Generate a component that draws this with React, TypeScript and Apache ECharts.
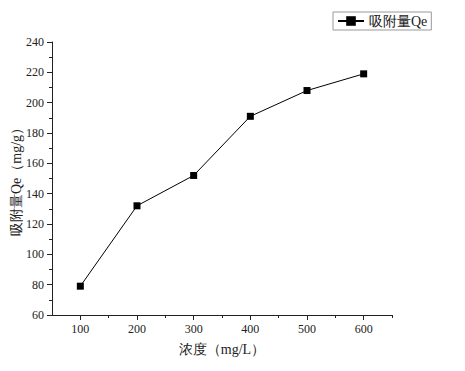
import React, { useEffect, useRef } from "react";
import * as echarts from "echarts";

const concentrations = [100, 200, 300, 400, 500, 600];
const adsorption = [79, 132, 152, 191, 208, 219];
const xMajorTicks = [100, 200, 300, 400, 500, 600];
const xMinorTicks = [150, 250, 350, 450, 550, 650];
const seriesName = "吸附量Qe";
const xName = "浓度（mg/L）";
const yName = "吸附量Qe（mg/g）";

const serif = "Liberation Serif";

export default function App() {
  const ref = useRef<HTMLDivElement>(null);
  useEffect(() => {
    if (!ref.current) return;
    const chart = echarts.init(ref.current, undefined, { renderer: "svg" });
    chart.setOption({
      animation: false,
      backgroundColor: "#fff",
      grid: { left: 52, top: 42, right: 73, bottom: 56, containLabel: false, outerBoundsMode: "none" },
      legend: {
        left: 333,
        top: 12,
        padding: [2, 4],
        itemWidth: 26,
        itemHeight: 12,
        itemGap: 4,
        borderColor: "#999",
        borderWidth: 1,
        textStyle: { fontFamily: serif, fontSize: 14, color: "#222" },
        data: [seriesName],
      },
      xAxis: [
        {
          type: "value",
          min: 50,
          max: 650,
          name: xName,
          nameLocation: "middle",
          nameGap: 27,
          nameMoveOverlap: false,
          nameTextStyle: { fontFamily: serif, fontSize: 14, color: "#222" },
          axisLine: { show: true, onZero: false, lineStyle: { color: "#222", width: 1 } },
          axisTick: { show: true, length: 5, customValues: xMajorTicks, lineStyle: { color: "#222" } },
          axisLabel: { customValues: xMajorTicks, margin: 8, fontFamily: serif, fontSize: 12, color: "#222" },
          splitLine: { show: false },
        },
        {
          type: "value",
          min: 50,
          max: 650,
          position: "bottom",
          axisLine: { show: false },
          axisTick: { show: true, length: 3, customValues: xMinorTicks, lineStyle: { color: "#222" } },
          axisLabel: { show: false },
          splitLine: { show: false },
        },
      ],
      yAxis: {
        type: "value",
        min: 60,
        max: 240,
        interval: 20,
        name: yName,
        nameLocation: "middle",
        nameGap: 29,
        nameMoveOverlap: false,
        nameTextStyle: { fontFamily: serif, fontSize: 14, color: "#222" },
        axisLine: { show: true, onZero: false, lineStyle: { color: "#222", width: 1 } },
        axisTick: { show: true, length: 5, lineStyle: { color: "#222" } },
        minorTick: { show: true, splitNumber: 2, length: 3, lineStyle: { color: "#222" } },
        axisLabel: { margin: 8, fontFamily: serif, fontSize: 12, color: "#222" },
        splitLine: { show: false },
      },
      series: [
        {
          name: seriesName,
          type: "line",
          xAxisIndex: 0,
          data: concentrations.map((c, i) => [c, adsorption[i]]),
          symbol: "rect",
          symbolSize: 7,
          itemStyle: { color: "#000" },
          lineStyle: { color: "#000", width: 1 },
        },
      ],
    });
    return () => chart.dispose();
  }, []);
  return <div ref={ref} style={{ width: 465, height: 371, position: "absolute", left: 0, top: 0 }} />;
}
